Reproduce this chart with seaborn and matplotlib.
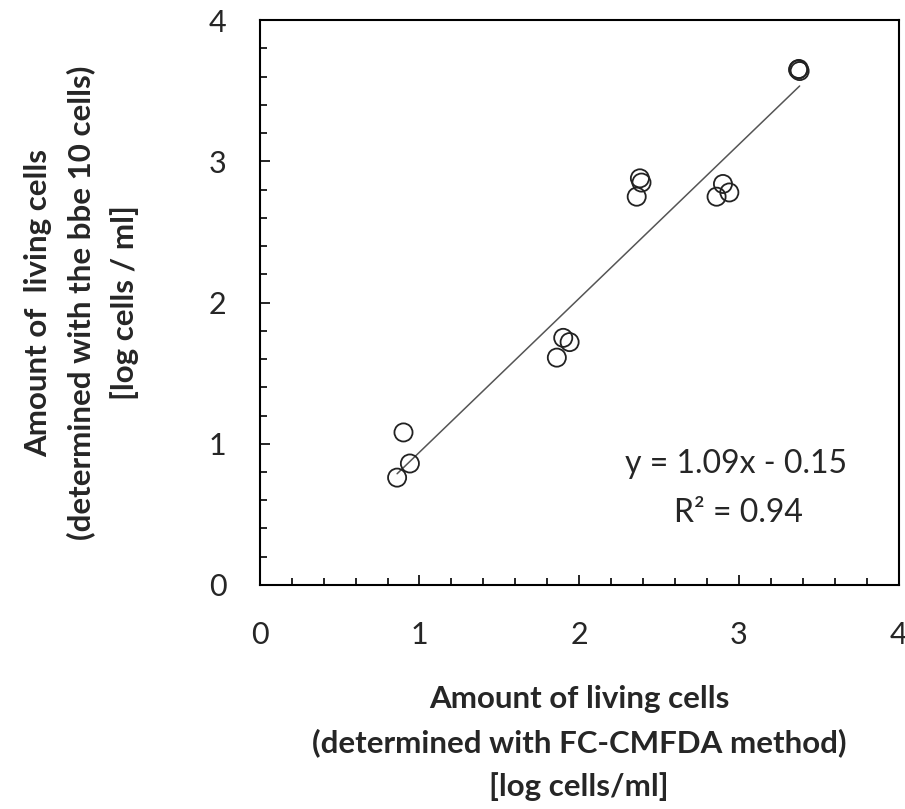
import numpy as np
import pandas as pd
import seaborn as sns
import matplotlib.pyplot as plt
from matplotlib.ticker import MultipleLocator

# values
fc_cmfda = [0.90, 0.86, 0.94, 1.86, 1.90, 1.94, 2.36, 2.38, 2.39, 2.86, 2.90, 2.94, 3.37, 3.38, 3.375]
bbe_10 = [1.08, 0.76, 0.86, 1.61, 1.75, 1.72, 2.75, 2.88, 2.85, 2.75, 2.84, 2.78, 3.65, 3.64, 3.655]
slope = 1.09
intercept = -0.15
r_squared = 0.94

df = pd.DataFrame({"fc": fc_cmfda, "bbe": bbe_10})

sns.set_style("white")
plt.rcParams["font.family"] = ["Lato", "DejaVu Sans"]

fig = plt.figure(figsize=(9.05, 8.09), dpi=100)
ax = fig.add_axes([0.287, 0.277, 0.706, 0.698])

# trend line over the data range
xs = np.array([df["fc"].min(), df["fc"].max()])
ax.plot(xs, slope * xs + intercept, color="#555555", lw=1.1, zorder=1)

sns.scatterplot(data=df, x="fc", y="bbe", ax=ax, s=170, marker="o",
                facecolor="none", edgecolor="#222222", linewidth=1.3, zorder=2)

ax.set_xlim(0, 4)
ax.set_ylim(0, 4)
ax.xaxis.set_major_locator(MultipleLocator(1))
ax.yaxis.set_major_locator(MultipleLocator(1))
ax.xaxis.set_minor_locator(MultipleLocator(0.2))
ax.yaxis.set_minor_locator(MultipleLocator(0.2))
ax.tick_params(which="both", direction="in", color="black", width=1.2)
ax.tick_params(which="major", length=7, labelsize=22)
ax.tick_params(axis="x", which="major", pad=26)
ax.tick_params(axis="y", which="major", pad=24)
ax.tick_params(which="minor", length=5)
ax.tick_params(axis="x", which="both", top=False, bottom=True)
ax.tick_params(axis="y", which="both", left=True, right=False)
for sp in ax.spines.values():
    sp.set_color("black")
    sp.set_linewidth(1.5)

ax.text(0.745, 0.215, f"y = {slope:.2f}x - {abs(intercept):.2f}", transform=ax.transAxes,
        ha="center", va="center", fontsize=23)
ax.text(0.75, 0.127, f"R² = {r_squared:.2f}", transform=ax.transAxes,
        ha="center", va="center", fontsize=23)

ax.set_xlabel("Amount of living cells\n(determined with FC-CMFDA method)\n[log cells/ml]",
              fontsize=22.5, fontweight="bold", linespacing=1.62, labelpad=26)
ax.set_ylabel("Amount of  living cells\n(determined with the bbe 10 cells)\n[log cells / ml]",
              fontsize=22.5, fontweight="bold", linespacing=1.62, labelpad=50)

fig.savefig("out.png", dpi=100)
